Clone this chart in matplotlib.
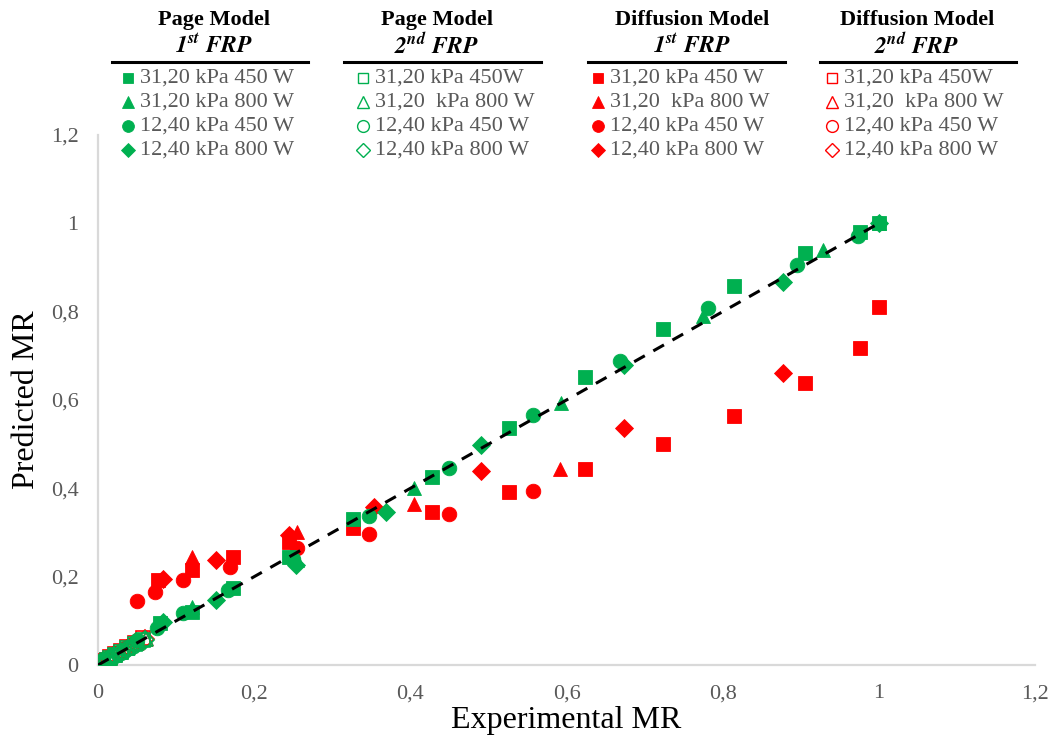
import matplotlib
matplotlib.use("Agg")
import matplotlib.pyplot as plt
from matplotlib.lines import Line2D
from matplotlib.ticker import FuncFormatter, MultipleLocator

plt.rcParams["font.family"] = ["Liberation Serif", "DejaVu Serif"]
plt.rcParams["mathtext.fontset"] = "stix"

GREEN = "#00B050"
RED = "#FF0000"
GREY = "#595959"

# ---- Page model, 1st falling-rate period (filled green) ----
p1_sq_x = [1.0, 0.976, 0.906, 0.815, 0.723, 0.624, 0.527, 0.428, 0.327, 0.244, 0.173, 0.12, 0.079]
p1_sq_y = [1.0, 0.98, 0.933, 0.858, 0.761, 0.652, 0.537, 0.426, 0.33, 0.245, 0.174, 0.12, 0.095]
p1_tr_x = [1.0, 0.928, 0.775, 0.593, 0.405, 0.255, 0.12]
p1_tr_y = [1.0, 0.94, 0.79, 0.593, 0.401, 0.238, 0.131]
p1_ci_x = [1.0, 0.973, 0.895, 0.781, 0.669, 0.557, 0.449, 0.347, 0.25, 0.167, 0.109, 0.075, 0.05]
p1_ci_y = [1.0, 0.971, 0.906, 0.808, 0.688, 0.566, 0.446, 0.337, 0.24, 0.17, 0.118, 0.084, 0.056]
p1_di_x = [1.0, 0.877, 0.674, 0.49, 0.369, 0.253, 0.151, 0.083]
p1_di_y = [1.0, 0.867, 0.679, 0.498, 0.346, 0.227, 0.147, 0.097]

# ---- Diffusion model, 1st falling-rate period (filled red) ----
d1_sq_x = [1.0, 0.976, 0.906, 0.815, 0.723, 0.624, 0.527, 0.428, 0.327, 0.244, 0.173, 0.12, 0.077]
d1_sq_y = [0.81, 0.718, 0.638, 0.564, 0.5, 0.444, 0.392, 0.346, 0.31, 0.278, 0.245, 0.215, 0.192]
d1_tr_x = [0.592, 0.405, 0.255, 0.12]
d1_tr_y = [0.444, 0.364, 0.301, 0.245]
d1_ci_x = [0.557, 0.449, 0.347, 0.255, 0.169, 0.109, 0.073, 0.05]
d1_ci_y = [0.394, 0.342, 0.297, 0.265, 0.222, 0.192, 0.165, 0.145]
d1_di_x = [0.877, 0.674, 0.49, 0.354, 0.244, 0.151, 0.083]
d1_di_y = [0.661, 0.537, 0.439, 0.358, 0.294, 0.238, 0.195]

# ---- Page model, 2nd falling-rate period (open green) ----
p2_sq_x = [0.058, 0.047, 0.037, 0.029, 0.022, 0.016, 0.011, 0.007, 0.004]
p2_sq_y = [0.056, 0.047, 0.038, 0.029, 0.022, 0.016, 0.011, 0.007, 0.004]
p2_tr_x = [0.062, 0.05, 0.039, 0.03, 0.022, 0.015, 0.01, 0.006]
p2_tr_y = [0.058, 0.049, 0.039, 0.03, 0.022, 0.015, 0.01, 0.006]
p2_ci_x = [0.045, 0.036, 0.028, 0.021, 0.015, 0.01, 0.006, 0.003]
p2_ci_y = [0.044, 0.036, 0.028, 0.021, 0.015, 0.01, 0.006, 0.003]
p2_di_x = [0.06, 0.048, 0.038, 0.029, 0.021, 0.015, 0.01, 0.006, 0.003]
p2_di_y = [0.057, 0.047, 0.037, 0.029, 0.021, 0.015, 0.01, 0.006, 0.003]

# ---- Diffusion model, 2nd falling-rate period (open red) ----
d2_sq_x = [0.058, 0.047, 0.037, 0.029, 0.022, 0.016, 0.011, 0.007, 0.004, 0.002]
d2_sq_y = [0.062, 0.05, 0.041, 0.032, 0.024, 0.018, 0.012, 0.008, 0.005, 0.002]
d2_tr_x = [0.062, 0.05, 0.039, 0.03, 0.022, 0.015, 0.01, 0.006, 0.003]
d2_tr_y = [0.06, 0.05, 0.04, 0.031, 0.023, 0.016, 0.011, 0.006, 0.003]
d2_ci_x = [0.045, 0.036, 0.028, 0.021, 0.015, 0.01, 0.006, 0.003, 0.001]
d2_ci_y = [0.047, 0.038, 0.03, 0.022, 0.016, 0.011, 0.006, 0.003, 0.001]
d2_di_x = [0.06, 0.048, 0.038, 0.029, 0.021, 0.015, 0.01, 0.006, 0.003, 0.001]
d2_di_y = [0.058, 0.049, 0.039, 0.03, 0.022, 0.016, 0.011, 0.006, 0.003, 0.001]

fit_x = [0.0, 1.0]
fit_y = [0.0, 1.0]

labels_a = ["31,20 kPa 450 W", "31,20 kPa 800 W", "12,40 kPa 450 W", "12,40 kPa 800 W"]
labels_b = ["31,20 kPa 450W", "31,20  kPa 800 W", "12,40 kPa 450 W", "12,40 kPa 800 W"]
labels_c = ["31,20 kPa 450 W", "31,20  kPa 800 W", "12,40 kPa 450 W", "12,40 kPa 800 W"]
labels_d = ["31,20 kPa 450W", "31,20  kPa 800 W", "12,40 kPa 450 W", "12,40 kPa 800 W"]

markers = ["s", "^", "o", "D"]
msize = {"s": 9.5, "^": 10.5, "o": 10.5, "D": 9}

W, H = 1051, 744
fig = plt.figure(figsize=(W / 100, H / 100), dpi=100)
ax = fig.add_axes([98 / W, 1 - 665 / H, (1035 - 98) / W, (665 - 135) / H])


def scatter(xs, ys, marker, color, filled):
    ax.plot(xs, ys, linestyle="none", marker=marker, markersize=msize[marker],
            markerfacecolor=color if filled else "none", markeredgecolor=color,
            markeredgewidth=0.6 if filled else 1.2, zorder=3)


page1 = [(p1_sq_x, p1_sq_y), (p1_tr_x, p1_tr_y), (p1_ci_x, p1_ci_y), (p1_di_x, p1_di_y)]
diff1 = [(d1_sq_x, d1_sq_y), (d1_tr_x, d1_tr_y), (d1_ci_x, d1_ci_y), (d1_di_x, d1_di_y)]
page2 = [(p2_sq_x, p2_sq_y), (p2_tr_x, p2_tr_y), (p2_ci_x, p2_ci_y), (p2_di_x, p2_di_y)]
diff2 = [(d2_sq_x, d2_sq_y), (d2_tr_x, d2_tr_y), (d2_ci_x, d2_ci_y), (d2_di_x, d2_di_y)]

for (xs, ys), m in zip(diff2, markers):
    scatter(xs, ys, m, RED, False)
for (xs, ys), m in zip(page2, markers):
    scatter(xs, ys, m, GREEN, False)
for (xs, ys), m in zip(diff1, markers):
    scatter(xs, ys, m, RED, True)
for (xs, ys), m in zip(page1, markers):
    scatter(xs, ys, m, GREEN, True)

ax.plot(fit_x, fit_y, color="black", linestyle=(0, (4, 3.2)), linewidth=2.2, zorder=4)

ax.set_xlim(0, 1.2)
ax.set_ylim(0, 1.2)
ax.xaxis.set_major_locator(MultipleLocator(0.2))
ax.yaxis.set_major_locator(MultipleLocator(0.2))
fmt = FuncFormatter(lambda v, p: ("%g" % round(v, 2)).replace(".", ","))
ax.xaxis.set_major_formatter(fmt)
ax.yaxis.set_major_formatter(fmt)
ax.tick_params(length=0, labelsize=16, labelcolor=GREY)
ax.tick_params(axis="x", pad=14)
ax.tick_params(axis="y", pad=14)
for side in ("top", "right"):
    ax.spines[side].set_visible(False)
for side in ("left", "bottom"):
    ax.spines[side].set_color("#D9D9D9")
    ax.spines[side].set_linewidth(1.6)
ax.patch.set_alpha(0)

ax.set_xlabel("Experimental MR", fontsize=23, color="black", labelpad=2)
ax.set_ylabel("Predicted MR", fontsize=23, color="black", labelpad=7)

# ---- header legends ----
groups = [
    ("Page Model", r"$\mathbfit{1^{st}\ FRP}$", 214, 112, 308, 128, 140, GREEN, True, labels_a),
    ("Page Model", r"$\mathbfit{2^{nd}\ FRP}$", 437, 344, 541, 363, 375, GREEN, False, labels_b),
    ("Diffusion Model", r"$\mathbfit{1^{st}\ FRP}$", 692, 588, 785, 598, 610, RED, True, labels_c),
    ("Diffusion Model", r"$\mathbfit{2^{nd}\ FRP}$", 917, 820, 1016, 832, 844, RED, False, labels_d),
]
row_y = [78, 102, 126, 150]
leg_size = {"s": 7.5, "^": 8.5, "o": 8.5, "D": 7.5}

for title, sub, cx, r0, r1, mx, tx, col, filled, labs in groups:
    fig.text(cx / W, 1 - 20 / H, title, ha="center", va="center",
             fontsize=16, fontweight="bold", color="black")
    fig.text(cx / W, 1 - 46 / H, sub, ha="center", va="center",
             fontsize=17, color="black")
    fig.add_artist(Line2D([r0 / W, r1 / W], [1 - 62 / H, 1 - 62 / H],
                          color="black", linewidth=2.2, transform=fig.transFigure))
    for ry, m, lab in zip(row_y, markers, labs):
        fig.add_artist(Line2D([mx / W], [1 - ry / H], marker=m, markersize=leg_size[m],
                              markerfacecolor=col if filled else "none",
                              markeredgecolor=col, markeredgewidth=0.6 if filled else 1.0,
                              linestyle="none", transform=fig.transFigure))
        fig.text(tx / W, 1 - ry / H, lab, ha="left", va="center",
                 fontsize=16, color=GREY)

fig.savefig("out.png", dpi=100)
